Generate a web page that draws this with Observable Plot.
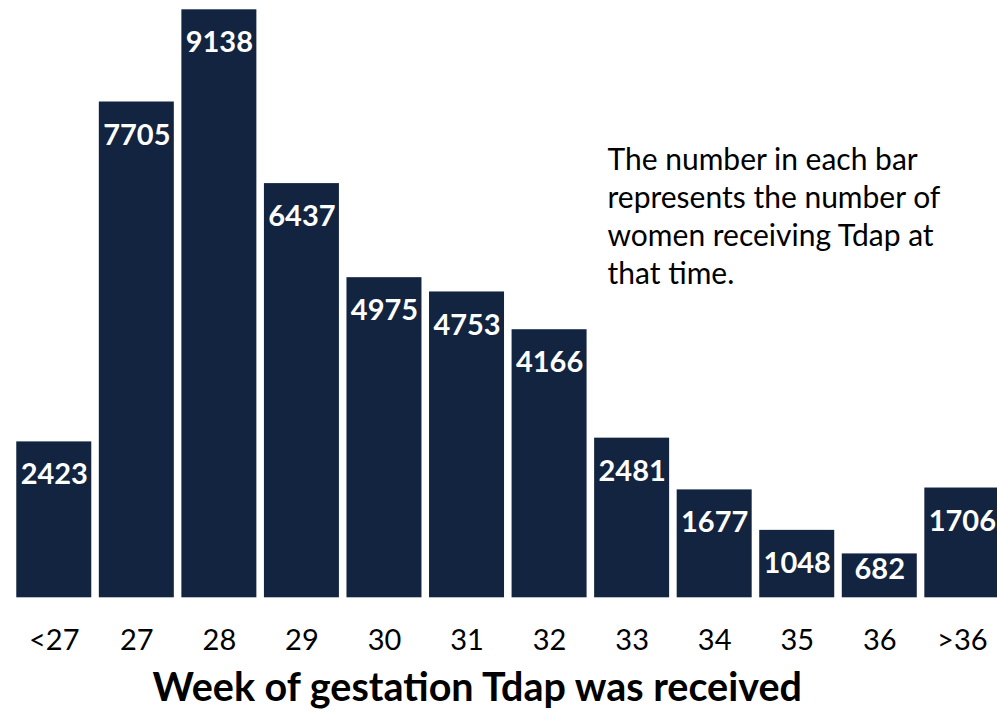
<!DOCTYPE html>
<html>
<head>
<meta charset="utf-8">
<script src="https://cdn.jsdelivr.net/npm/d3@7"></script>
<script src="https://cdn.jsdelivr.net/npm/@observablehq/plot@0.6"></script>
<style>
  html, body { margin: 0; padding: 0; background: #fff; }
  svg { display: block; }
</style>
</head>
<body>
<div id="chart"></div>
<script>
const weeks = ["<27", "27", "28", "29", "30", "31", "32", "33", "34", "35", "36", ">36"];
const counts = [2423, 7705, 9138, 6437, 4975, 4753, 4166, 2481, 1677, 1048, 682, 1706];
const xTitle = "Week of gestation Tdap was received";
const note = "The number in each bar\nrepresents the number of\nwomen receiving Tdap at\nthat time.";

const data = weeks.map((w, i) => ({week: w, count: counts[i]}));
const barColor = "#12243f";
const font = "Lato, 'Open Sans', sans-serif";

const chart = Plot.plot({
  width: 997,
  height: 714,
  marginLeft: 12.5,
  marginRight: -6.1,
  marginTop: 9.3,
  marginBottom: 116.7,
  style: {fontFamily: font, background: "#fff", overflow: "hidden"},
  x: {domain: weeks, paddingInner: 0.0915, paddingOuter: 0.0457, round: false, label: null},
  y: {domain: [0, 9138], axis: null},
  marks: [
    Plot.barY(data, {x: "week", y: "count", fill: barColor}),
    Plot.text(data.filter(d => d.count >= 1000), {
      x: "week", y: "count", text: d => String(d.count),
      lineAnchor: "top", dy: 22, fill: "white", fontWeight: "bold", fontSize: 29
    }),
    Plot.text(data.filter(d => d.count < 1000), {
      x: "week", y: "count", text: d => String(d.count),
      lineAnchor: "top", dy: 4, fill: "white", fontWeight: "bold", fontSize: 29
    }),
    Plot.axisX({tickSize: 0, tickPadding: 32, fontSize: 29, fill: "black", label: null}),
    Plot.text([xTitle], {
      frameAnchor: "bottom", lineAnchor: "top", dx: -31, dy: 75,
      fontSize: 39.5, fontWeight: "bold", fill: "black"
    }),
    Plot.text([note], {
      frameAnchor: "top-left", textAnchor: "start", lineAnchor: "top",
      dx: 594.5, dy: 133, fontSize: 30, lineHeight: 1.27, fill: "black"
    })
  ]
});
document.getElementById("chart").append(chart);
</script>
</body>
</html>
